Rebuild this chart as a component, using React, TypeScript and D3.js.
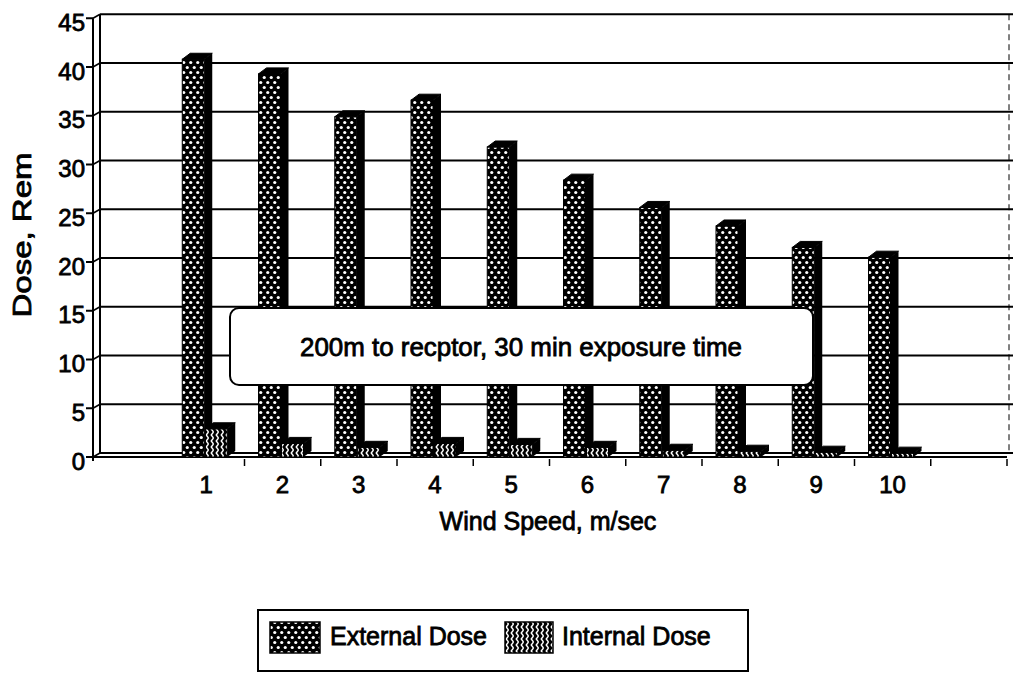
import React from "react";
import * as d3 from "d3";

const categories = ["1", "2", "3", "4", "5", "6", "7", "8", "9", "10"];
const externalDose = [41.0, 39.5, 35.1, 36.8, 32.0, 28.6, 25.8, 23.9, 21.7, 20.7];
const internalDose = [3.1, 1.6, 1.2, 1.6, 1.5, 1.2, 0.9, 0.8, 0.7, 0.6];
const yTicks = [0, 5, 10, 15, 20, 25, 30, 35, 40, 45];
const seriesNames = ["External Dose", "Internal Dose"];
const yTitle = "Dose, Rem";
const xTitle = "Wind Speed, m/sec";
const note = "200m to recptor, 30 min exposure time";

const W = 1013;
const H = 673;
const DX = 7; // wall depth
const DY = -4;
const BDX = 8; // bar depth
const BDY = -6;
const FONT = "'Liberation Sans', Arial, Helvetica, sans-serif";

export default function App() {
  const domain = ["_l", ...categories, "_r"];
  const x = d3.scaleBand<string>().domain(domain).range([92, 1007]);
  const yF = d3.scaleLinear().domain([0, 45]).range([457, 457 - 45 * 9.75]);
  const yB = (v: number) => yF(v) + DY;
  const frontLeft = 93;
  const backLeft = frontLeft + DX;
  const extOff = 14;
  const intOff = 37;
  const barW = 22;
  const base = yF(0);

  const bar = (x0: number, v: number, fill: string, key: string) => {
    const topBack = yB(v);
    const top = topBack - BDY; // front face top
    const w = barW;
    return (
      <g key={key}>
        <rect x={x0} y={top} width={w} height={base - top} fill={fill} />
        <path
          d={`M${x0 + w},${top} L${x0 + w + BDX},${top + BDY} L${x0 + w + BDX},${base + BDY} L${x0 + w},${base} Z`}
          fill="#000"
        />
        <path
          d={`M${x0},${top} L${x0 + BDX},${top + BDY} L${x0 + w + BDX},${top + BDY} L${x0 + w},${top} Z`}
          fill="#000"
          stroke="#000"
          strokeWidth={1}
        />
        <rect x={x0} y={top} width={w} height={base - top} fill="none" stroke="#000" strokeWidth={1} />
      </g>
    );
  };

  const textStyle = { fontFamily: FONT, fill: "#000", stroke: "#000", strokeWidth: 0.8 } as const;

  return (
    <svg
      width={W}
      height={H}
      viewBox={`0 0 ${W} ${H}`}
      style={{ position: "absolute", left: 0, top: 0, background: "#fff" }}
    >
      <defs>
        <pattern id="dots" width="7" height="10" patternUnits="userSpaceOnUse">
          <rect width="7" height="10" fill="#000" />
          <circle cx="1.75" cy="2.5" r="1.6" fill="#fff" />
          <circle cx="5.25" cy="7.5" r="1.6" fill="#fff" />
        </pattern>
        <pattern id="chev" width="5" height="6" patternUnits="userSpaceOnUse">
          <rect width="5" height="6" fill="#000" />
          <path d="M3.5,0 L1.2,3 L3.5,6" stroke="#fff" strokeWidth="1.4" fill="none" />
        </pattern>
      </defs>
      <rect width={W} height={H} fill="#fff" />

      {/* walls */}
      <line x1={backLeft} y1={yB(45)} x2={backLeft} y2={yB(0)} stroke="#000" strokeWidth={2} />
      <line x1={frontLeft} y1={yF(45)} x2={frontLeft} y2={yF(0) + 4} stroke="#000" strokeWidth={2} />
      <line x1={1009} y1={yB(45)} x2={1009} y2={yB(0)} stroke="#000" strokeWidth={1} strokeDasharray="6 4" />

      {/* gridlines on back wall */}
      {yTicks.map((t) => (
        <g key={`g${t}`}>
          <line x1={backLeft} y1={yB(t)} x2={W} y2={yB(t)} stroke="#000" strokeWidth={2} />
          <line x1={frontLeft} y1={yF(t)} x2={backLeft} y2={yB(t)} stroke="#000" strokeWidth={1.5} />
          <line x1={frontLeft - 7} y1={yF(t)} x2={frontLeft} y2={yF(t)} stroke="#000" strokeWidth={2} />
          <text
            x={85}
            y={yF(t) + 4}
            textAnchor="end"
            dominantBaseline="central"
            fontSize={24}
            style={textStyle}
          >
            {t}
          </text>
        </g>
      ))}

      {/* floor front line */}
      <line x1={frontLeft} y1={base} x2={1007} y2={base} stroke="#000" strokeWidth={2} />

      {/* bars */}
      {categories.map((c, i) => {
        const bx = x(c) as number;
        return (
          <g key={`b${c}`}>
            {bar(bx + extOff, externalDose[i], "url(#dots)", `e${c}`)}
            {bar(bx + intOff, internalDose[i], "url(#chev)", `i${c}`)}
          </g>
        );
      })}

      {/* category ticks */}
      {domain.slice(2).map((d) => (
        <line
          key={`t${d}`}
          x1={x(d) as number}
          y1={base + 2}
          x2={x(d) as number}
          y2={base + 9}
          stroke="#000"
          strokeWidth={1.5}
        />
      ))}
      <line x1={1007} y1={base + 2} x2={1007} y2={base + 9} stroke="#000" strokeWidth={1.5} />

      {/* category labels */}
      {categories.map((c) => (
        <text
          key={`l${c}`}
          x={(x(c) as number) + 38}
          y={493}
          textAnchor="middle"
          fontSize={24}
          style={textStyle}
        >
          {c}
        </text>
      ))}

      {/* axis titles */}
      <text x={548} y={530} textAnchor="middle" fontSize={25} style={textStyle}>
        {xTitle}
      </text>
      <text
        transform="translate(31,235) rotate(-90)"
        textAnchor="middle"
        fontSize={26}
        textLength={165}
        lengthAdjust="spacingAndGlyphs"
        style={textStyle}
      >
        {yTitle}
      </text>

      {/* annotation box */}
      <rect x={230} y={308} width={583} height={77} rx={9} ry={9} fill="#fff" stroke="#000" strokeWidth={2} />
      <text
        x={521}
        y={347}
        textAnchor="middle"
        dominantBaseline="central"
        fontSize={25}
        textLength={442}
        lengthAdjust="spacingAndGlyphs"
        style={textStyle}
      >
        {note}
      </text>

      {/* legend */}
      <rect x={258} y={610} width={490} height={61} fill="#fff" stroke="#000" strokeWidth={2} />
      <rect x={270} y={622} width={50} height={31} fill="url(#dots)" stroke="#000" strokeWidth={1.5} />
      <text x={330} y={645} fontSize={25} style={textStyle}>
        {seriesNames[0]}
      </text>
      <rect x={505} y={622} width={48} height={31} fill="url(#chev)" stroke="#000" strokeWidth={1.5} />
      <text x={562} y={645} fontSize={25} style={textStyle}>
        {seriesNames[1]}
      </text>
    </svg>
  );
}
